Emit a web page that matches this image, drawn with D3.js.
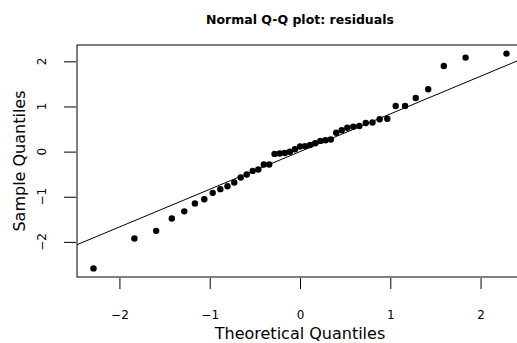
<!DOCTYPE html>
<html><head><meta charset="utf-8">
<script src="https://cdn.jsdelivr.net/npm/d3@7"></script>
<style>body{margin:0;background:#fff}svg{display:block}text{font-family:"DejaVu Sans",sans-serif;fill:#000}</style>
</head><body><svg id="c" width="517" height="343"></svg>
<script>
// Theoretical normal quantiles (n = 45)
const theoretical = [-2.287,-1.834,-1.593,-1.420,-1.282,-1.164,-1.060,-0.967,-0.882,-0.803,
  -0.728,-0.657,-0.590,-0.524,-0.462,-0.401,-0.341,-0.282,-0.225,-0.168,-0.112,-0.056,0,
  0.056,0.112,0.168,0.225,0.282,0.341,0.401,0.462,0.524,0.590,0.657,0.728,0.803,0.882,
  0.967,1.060,1.164,1.282,1.420,1.593,1.834,2.287];
// Sample quantiles (sorted residuals)
const sample = [-2.588,-1.924,-1.756,-1.481,-1.324,-1.149,-1.054,-0.914,-0.832,-0.766,
  -0.684,-0.573,-0.507,-0.427,-0.396,-0.286,-0.286,-0.051,-0.042,-0.031,-0.002,0.053,0.113,
  0.122,0.146,0.186,0.237,0.252,0.268,0.418,0.474,0.529,0.551,0.569,0.635,0.644,0.717,
  0.728,1.012,1.012,1.189,1.381,1.897,2.083,2.172];
const xTicks = [-2,-1,0,1,2];
const yTicks = [-2,-1,0,1,2];
const lineIntercept = 0.0;
const lineSlope = 0.835;
const titleText = "Normal Q-Q plot: residuals";
const xLabel = "Theoretical Quantiles";
const yLabel = "Sample Quantiles";

const svg = d3.select("#c");
const L = 77, R = 523, T = 45, B = 277;
function ext(a){const lo=d3.min(a),hi=d3.max(a),p=(hi-lo)*0.04;return [lo-p,hi+p];}
const x = d3.scaleLinear().domain(ext(theoretical)).range([L,R]);
const y = d3.scaleLinear().domain(ext(sample)).range([B,T]);

svg.append("defs").append("clipPath").attr("id","clip")
  .append("rect").attr("x",L).attr("y",T).attr("width",R-L).attr("height",B-T);

// points
svg.append("g").selectAll("circle").data(theoretical).join("circle")
  .attr("cx",d=>x(d)).attr("cy",(d,i)=>y(sample[i])).attr("r",3.2).attr("fill","#000");

// reference line
const xd = x.domain();
svg.append("line").attr("clip-path","url(#clip)")
  .attr("x1",x(xd[0])).attr("y1",y(lineIntercept+lineSlope*xd[0]))
  .attr("x2",x(xd[1])).attr("y2",y(lineIntercept+lineSlope*xd[1]))
  .attr("stroke","#000").attr("stroke-width",1);

// box
svg.append("rect").attr("x",L).attr("y",T).attr("width",R-L).attr("height",B-T)
  .attr("fill","none").attr("stroke","#000").attr("stroke-width",1);

// x axis
const xa = svg.append("g").attr("transform",`translate(0,${B+1})`)
  .call(d3.axisBottom(x).tickValues(xTicks).tickSize(11).tickPadding(21).tickFormat(d3.format("d")));
xa.select(".domain").remove();
xa.selectAll("text").attr("font-size",12).attr("font-family","DejaVu Sans");
xa.selectAll("line").attr("stroke","#000");

// y axis
const ya = svg.append("g").attr("transform",`translate(${L-1},0)`)
  .call(d3.axisLeft(y).tickValues(yTicks).tickSize(12).tickFormat(d3.format("d")));
ya.select(".domain").remove();
ya.selectAll("line").attr("stroke","#000");
ya.selectAll("text").remove();
svg.append("g").selectAll("text").data(yTicks).join("text")
  .attr("transform",d=>`translate(45.5,${y(d)}) rotate(-90)`)
  .attr("text-anchor","middle").attr("font-size",12).text(d=>d3.format("d")(d));

// title
svg.append("text").attr("x",(L+R)/2).attr("y",23.5).attr("text-anchor","middle")
  .attr("font-size",12.5).attr("font-weight","bold").text(titleText);
// axis titles
svg.append("text").attr("x",(L+R)/2).attr("y",339).attr("text-anchor","middle")
  .attr("font-size",16).text(xLabel);
svg.append("text").attr("transform",`translate(24.5,${(T+B)/2}) rotate(-90)`)
  .attr("text-anchor","middle").attr("font-size",16).text(yLabel);
</script></body></html>
